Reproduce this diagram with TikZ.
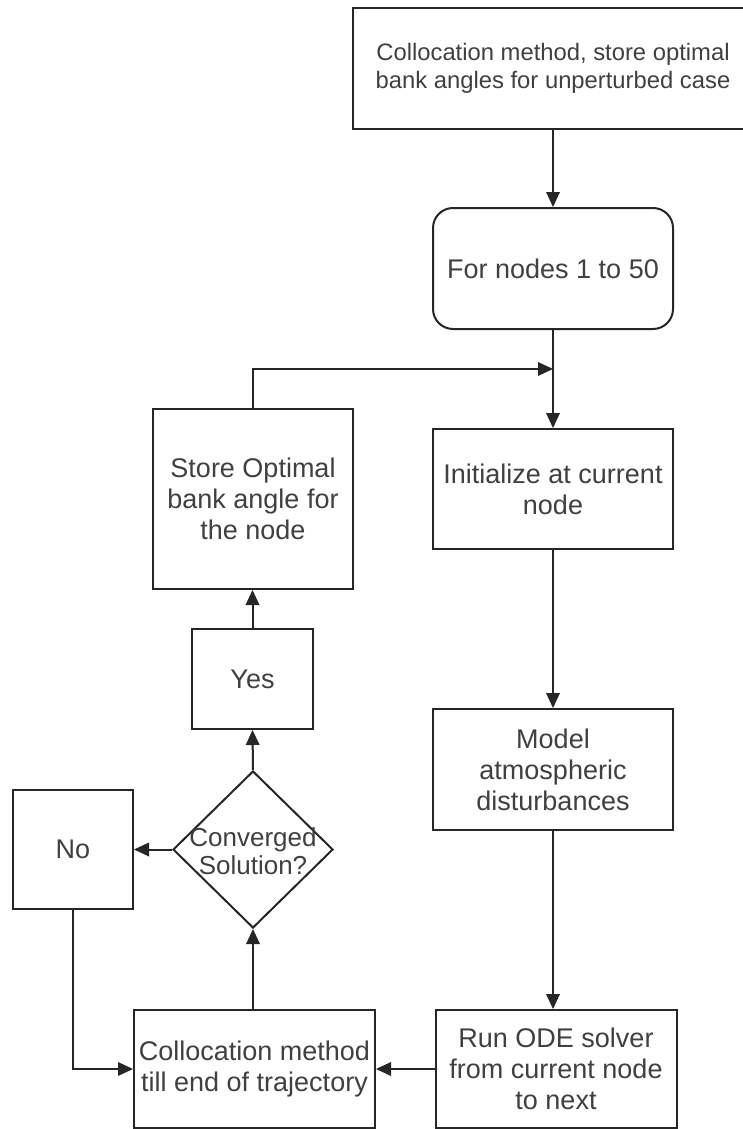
\documentclass[tikz,border=0pt]{standalone}
\usepackage{fontspec}
\setmainfont{Liberation Sans}
\usetikzlibrary{arrows.meta,shapes.geometric}
\begin{document}
\begin{tikzpicture}[x=1pt,y=-1pt,
  box/.style={draw=black!85, line width=2pt, fill=white, align=center,
    inner sep=3pt, text=black!75, font=\fontsize{27pt}{31pt}\selectfont},
  tip/.tip={Triangle[length=15pt,width=14pt,line width=0pt]},
  conn/.style={draw=black!85, line width=2pt, -tip}
]
\useasboundingbox (0,0) rectangle (742,1129);

% process steps
\node[box, minimum width=400pt, minimum height=121pt,
  font=\fontsize{23.8pt}{27.7pt}\selectfont] (top) at (553,68.5)
  {Collocation method, store optimal\\bank angles for unperturbed case};
\node[box, rounded corners=20pt, minimum width=240pt, minimum height=121pt] (loop) at (553,268.5)
  {For nodes 1 to 50};
\node[box, minimum width=240pt, minimum height=120pt] (init) at (553,489)
  {Initialize at current\\node};
\node[box, minimum width=240pt, minimum height=121pt] (model) at (553,769.5)
  {Model\\atmospheric\\disturbances};
\node[box, minimum width=241pt, minimum height=118pt] (ode) at (556,1069)
  {Run ODE solver\\from current node\\to next};
\node[box, minimum width=241pt, minimum height=118pt] (coll) at (254.5,1069)
  {Collocation method\\till end of trajectory};

% decision
\node[draw=black!85, line width=2pt, diamond, minimum width=160pt,
  minimum height=157pt, inner sep=0pt] (dec) at (253,849.5) {};
\node[align=center, text=black!75, font=\fontsize{26pt}{28pt}\selectfont] (dectext) at (253,851)
  {Converged\\Solution?};

\node[box, minimum width=120pt, minimum height=119pt] (no) at (73,849.5) {No};
\node[box, minimum width=121pt, minimum height=100pt] (yes) at (252.5,679) {Yes};
\node[box, minimum width=200pt, minimum height=180pt] (store) at (253,499)
  {Store Optimal\\bank angle for\\the node};

% junction where the loop returns
\coordinate (join) at (553,369);

% connectors
\draw[conn] (top.south -| loop.north) -- (loop.north);
\draw[conn] (loop.south) -- (init.north);
\draw[conn] (store.north) |- (join);
\draw[conn] (init.south) -- (model.north);
\draw[conn] (model.south -| init.south) -- (ode.north -| init.south);
\draw[conn] (ode.west) -- (coll.east);
\draw[conn] (coll.north -| dec.south) -- (dec.south);
\draw[conn] (dec.west) -- (no.east);
\draw[conn] (dec.north) -- (yes.south);
\draw[conn] (yes.north) -- (store.south -| yes.north);
\draw[conn] (no.south) |- (coll.west);
\end{tikzpicture}
\end{document}
